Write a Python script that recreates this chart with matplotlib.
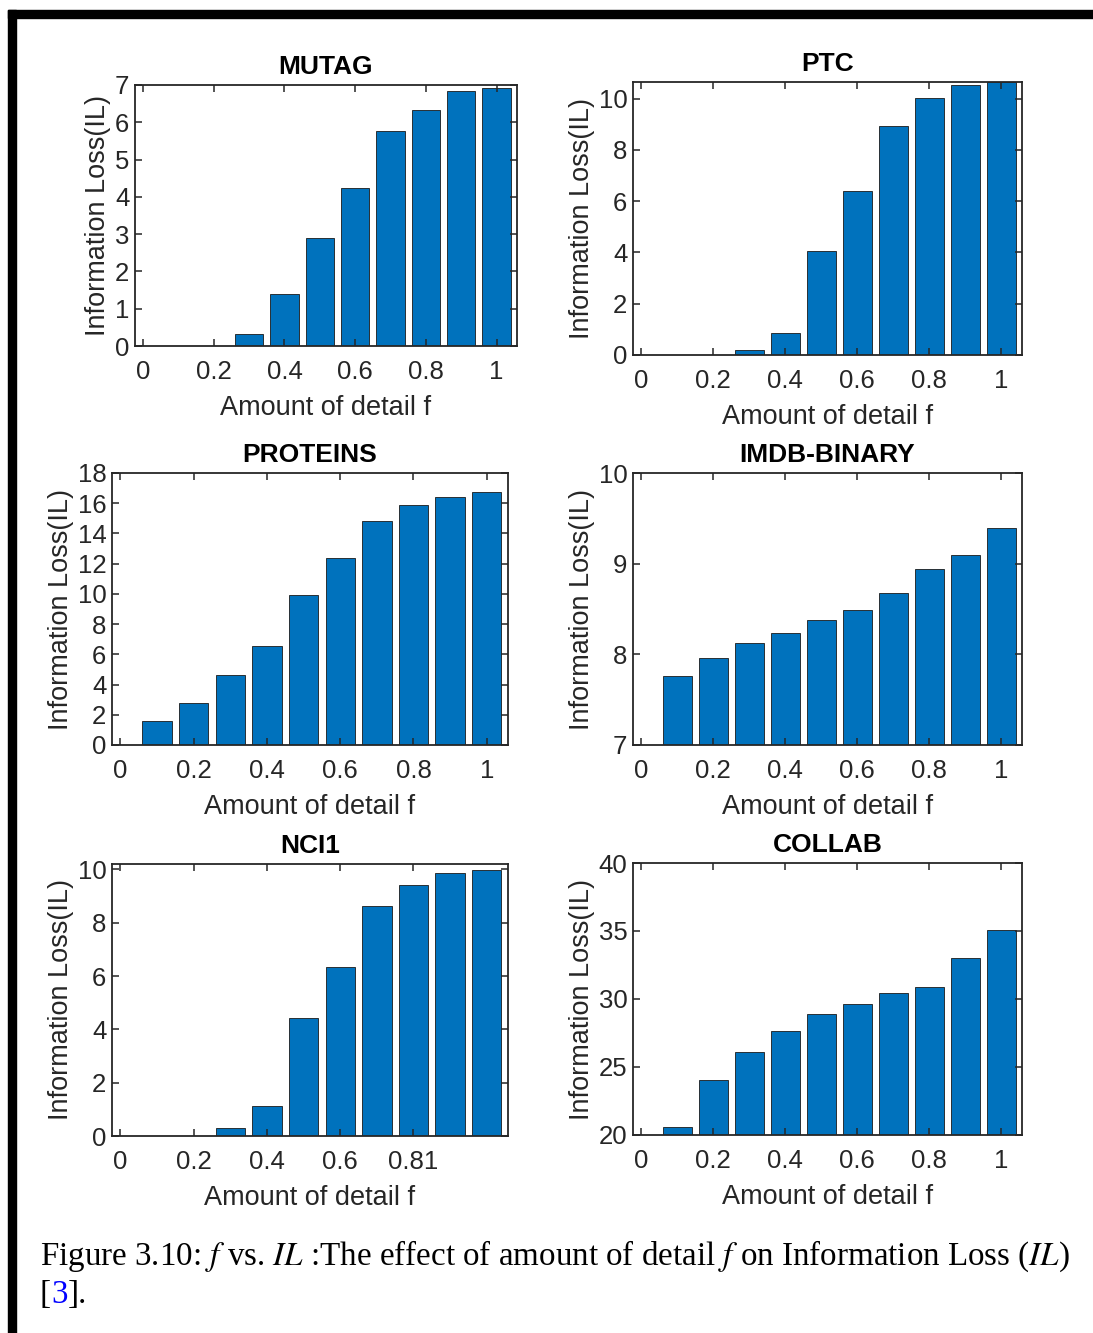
import numpy as np
import matplotlib
matplotlib.use("Agg")
import matplotlib.pyplot as plt
from matplotlib.patches import Rectangle

plt.rcParams['font.family'] = ['Liberation Sans', 'DejaVu Sans']
plt.rcParams['mathtext.fontset'] = 'stix'

# amount of detail f
f = [0.0, 0.1, 0.2, 0.3, 0.4, 0.5, 0.6, 0.7, 0.8, 0.9, 1.0]

# information loss per dataset
mutag = [0, 0, 0, 0.31, 1.40, 2.89, 4.23, 5.77, 6.33, 6.85, 6.92]
ptc = [0, 0, 0, 0.18, 0.86, 4.05, 6.39, 8.95, 10.04, 10.52, 10.65]
proteins = [0, 1.56, 2.78, 4.63, 6.53, 9.93, 12.38, 14.82, 15.88, 16.41, 16.74]
imdb = [0, 7.76, 7.96, 8.13, 8.23, 8.38, 8.49, 8.68, 8.94, 9.10, 9.39]
nci1 = [0, 0, 0, 0.30, 1.13, 4.42, 6.34, 8.63, 9.43, 9.87, 9.98]
collab = [0, 20.59, 24.07, 26.07, 27.64, 28.92, 29.65, 30.46, 30.90, 32.99, 35.07]

xticks = [0, 0.2, 0.4, 0.6, 0.8, 1.0]
xticklabels = ['0', '0.2', '0.4', '0.6', '0.8', '1']
nci1_xticks = [0, 0.2, 0.4, 0.6, 0.8]
nci1_xticklabels = ['0', '0.2', '0.4', '0.6', '0.81']

W, H = 1093, 1333
fig = plt.figure(figsize=(W / 100, H / 100), dpi=100)

# page border bits
fig.patches.append(Rectangle((8 / W, 1 - 18 / H), 1 - 8 / W, 8 / H,
                             transform=fig.transFigure, color='black', zorder=0))
fig.patches.append(Rectangle((8 / W, 0), 8 / W, 1 - 10 / H,
                             transform=fig.transFigure, color='black', zorder=0))

panels = [
    ("MUTAG", mutag, (135, 517, 85, 346), (0, 7), np.arange(0, 8, 1), xticks, xticklabels),
    ("PTC", ptc, (633, 1022, 82, 355), (0, 10.65), np.arange(0, 11, 2), xticks, xticklabels),
    ("PROTEINS", proteins, (112, 508, 473, 745), (0, 18), np.arange(0, 19, 2), xticks, xticklabels),
    ("IMDB-BINARY", imdb, (633, 1022, 473, 745), (7, 10), np.arange(7, 11, 1), xticks, xticklabels),
    ("NCI1", nci1, (112, 508, 864, 1136), (0, 10.2), np.arange(0, 11, 2), nci1_xticks, nci1_xticklabels),
    ("COLLAB", collab, (633, 1022, 863, 1135), (20, 40), np.arange(20, 41, 5), xticks, xticklabels),
]

dark = '#262626'
for name, vals, (l, r, t, b), ylim, yt, xt, xtl in panels:
    ax = fig.add_axes([l / W, 1 - b / H, (r - l) / W, (b - t) / H])
    ax.bar(f, vals, width=0.08, color='#0072BD', edgecolor='#1a1a1a', linewidth=0.6)
    ax.set_xlim(-0.023, 1.058)
    ax.set_ylim(*ylim)
    ax.set_xticks(xt)
    ax.set_xticklabels(xtl)
    ax.set_yticks(yt)
    ax.tick_params(direction='in', top=True, right=True, length=5, width=1.1,
                   labelsize=18.5, colors=dark)
    ax.tick_params(axis='x', pad=10)
    ax.tick_params(axis='y', pad=4)
    for s in ax.spines.values():
        s.set_linewidth(1.3)
        s.set_color(dark)
    ax.set_title(name, fontsize=19, fontweight='bold', pad=8)
    ax.set_xlabel("Amount of detail f", fontsize=19.5, color=dark, labelpad=8)
    ax.set_ylabel("Information Loss(IL)", fontsize=19.5, color=dark, labelpad=3)

fs = 23.8
cap = fig.text(40 / W, 1 - 1265 / H,
               "Figure 3.10: $f$ vs. $IL$ :The effect of amount of detail $f$ on Information Loss ($IL$)",
               fontsize=fs, family='Liberation Serif', va='baseline', ha='left')
t1 = fig.text(40 / W, 1 - 1303 / H, "[", fontsize=fs, family='Liberation Serif',
              va='baseline', ha='left')
t2 = fig.text(0, 0, "3", fontsize=fs, family='Liberation Serif', color='#0000ff',
              va='baseline', ha='left')
t3 = fig.text(0, 0, "].", fontsize=fs, family='Liberation Serif',
              va='baseline', ha='left')

fig.canvas.draw()
r = fig.canvas.get_renderer()
bb = t1.get_window_extent(r)
t2.set_position((bb.x1 / W, 1 - 1303 / H))
fig.canvas.draw()
bb = t2.get_window_extent(r)
t3.set_position((bb.x1 / W, 1 - 1303 / H))

fig.savefig("out.png", dpi=100)
